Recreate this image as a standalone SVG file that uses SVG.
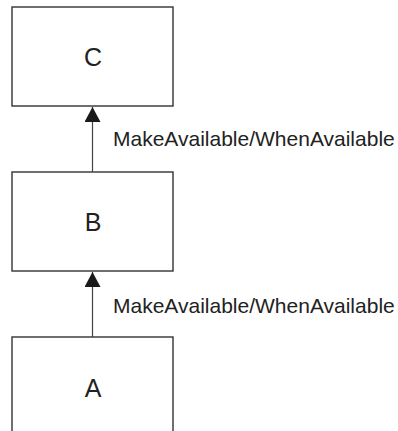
<svg xmlns="http://www.w3.org/2000/svg" width="398" height="431" viewBox="0 0 398 431">
  <style>
    .box { fill: #ffffff; stroke: #333333; stroke-width: 1.4; }
    .name { font-family: "Liberation Sans", Arial, sans-serif; font-size: 25px; fill: #222222; text-anchor: middle; }
    .lbl { font-family: "Liberation Sans", Arial, sans-serif; font-size: 21px; fill: #222222; }
    .conn { stroke: #444444; stroke-width: 1.2; fill: none; }
  </style>
  <defs>
    <marker id="tri" markerUnits="userSpaceOnUse" markerWidth="18" markerHeight="17" refX="15" refY="8" orient="auto">
      <path d="M0,0 L15,8 L0,16 Z" fill="#1a1a1a"/>
    </marker>
  </defs>
  <rect x="0" y="0" width="398" height="431" fill="#ffffff"/>
  <g id="node-C">
    <rect class="box" x="12" y="7" width="161" height="99"/>
    <text class="name" x="93" y="66">C</text>
  </g>
  <g id="node-B">
    <rect class="box" x="12" y="172" width="161" height="99"/>
    <text class="name" x="93" y="231">B</text>
  </g>
  <g id="node-A">
    <rect class="box" x="12" y="337" width="161" height="99"/>
    <text class="name" x="93" y="397">A</text>
  </g>
  <g id="connectors">
    <line class="conn" x1="92.5" y1="172" x2="92.5" y2="107" marker-end="url(#tri)"/>
    <text class="lbl" x="113" y="146">MakeAvailable/WhenAvailable</text>
    <line class="conn" x1="92.5" y1="337" x2="92.5" y2="272" marker-end="url(#tri)"/>
    <text class="lbl" x="113" y="313">MakeAvailable/WhenAvailable</text>
  </g>
</svg>
